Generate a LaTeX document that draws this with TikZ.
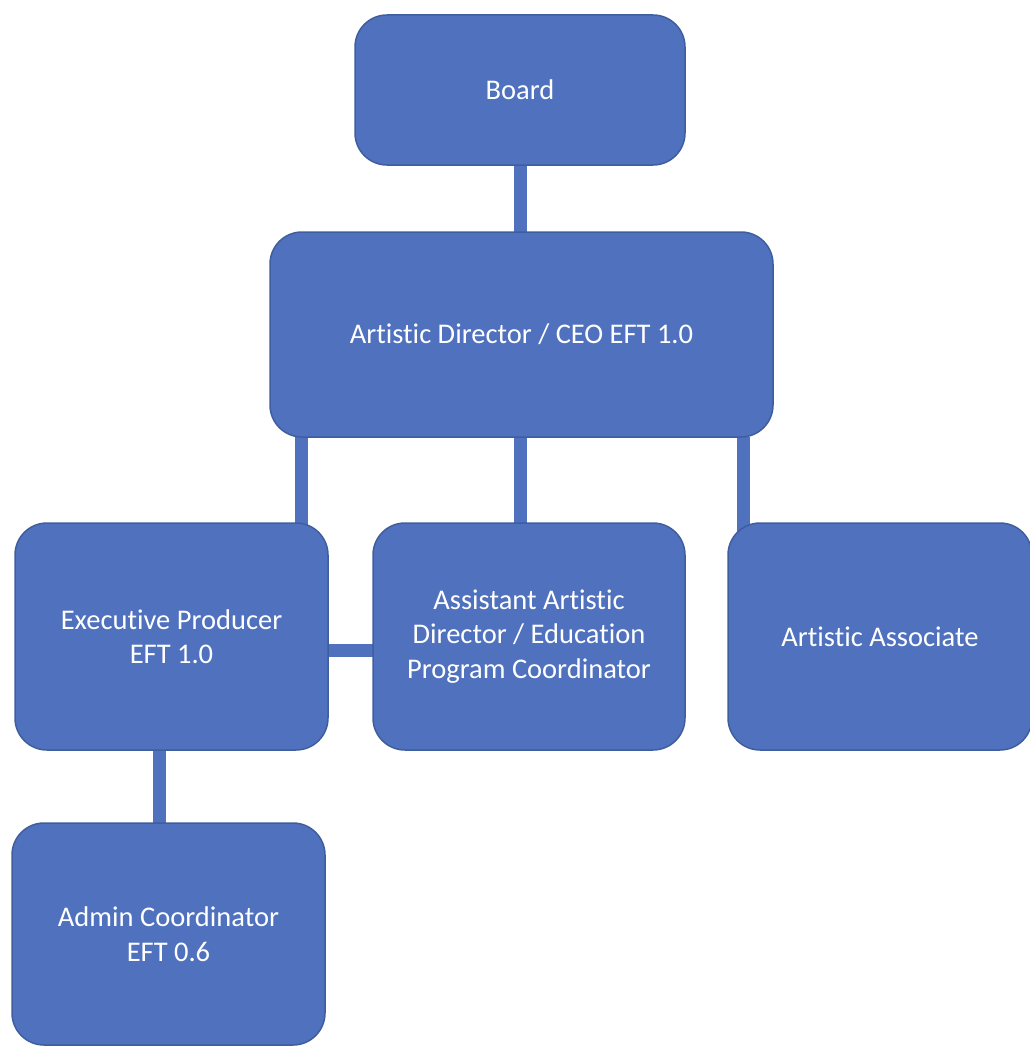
\documentclass[tikz,border=0pt]{standalone}
\usepackage{fontspec}
\setmainfont{Carlito}[Ligatures={NoCommon}]
\pgfdeclarelayer{background}
\pgfsetlayers{background,main}
\definecolor{boxblue}{HTML}{4F71BE}
\definecolor{boxedge}{HTML}{3F5E9E}
\begin{document}
\begin{tikzpicture}[x=1pt,y=-1pt,
  orgbox/.style={draw=boxedge,line width=1.5pt,fill=boxblue,rounded corners=32pt,
    inner sep=0pt,outer sep=0pt,align=center,text=white,
    font=\fontsize{28.5}{34.5}\selectfont},
  link/.style={draw=boxblue,line width=13pt,line cap=butt}]
\useasboundingbox (0,0) rectangle (1029,1046);
\node[orgbox,minimum width=330pt,minimum height=150pt] (board) at (520,90) {Board};
\node[orgbox,minimum width=503pt,minimum height=205pt] (ceo) at (521.5,334.5) {Artistic Director / CEO EFT 1.0};
\node[orgbox,minimum width=313pt,minimum height=227pt] (exec) at (171.5,636.5) {Executive Producer\\EFT 1.0};
\node[orgbox,minimum width=312pt,minimum height=227pt] (asst) at (529,636.5) {Assistant Artistic\\Director / Education\\Program Coordinator};
\node[orgbox,minimum width=304pt,minimum height=227pt] (assoc) at (880,636.5) {Artistic Associate};
\node[orgbox,minimum width=313pt,minimum height=222pt] (admin) at (168.5,934) {Admin Coordinator\\EFT 0.6};
\begin{pgfonlayer}{background}
\draw[link] (board.center) -- (board.center |- ceo.center);
\draw[link] ([xshift=31pt]ceo.south west) -- ([xshift=31pt]ceo.south west |- exec.center);
\draw[link] (ceo.center -| board.center) -- (board.center |- asst.center);
\draw[link] ([xshift=-30pt]ceo.south east) -- ([xshift=-30pt]ceo.south east |- assoc.center);
\draw[link] ([yshift=-14pt]exec.center) -- ([yshift=-14pt]asst.center);
\draw[link] ([xshift=-12pt]exec.center) -- ([xshift=-12pt]exec.center |- admin.center);
\end{pgfonlayer}
\end{tikzpicture}
\end{document}
